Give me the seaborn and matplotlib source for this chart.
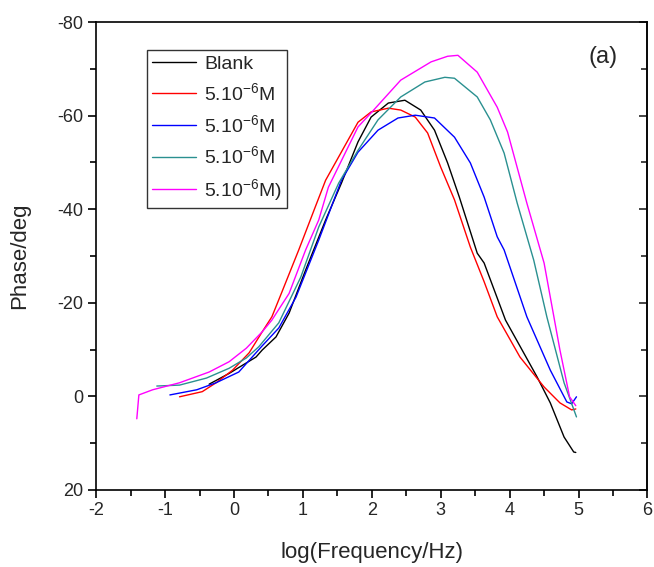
import numpy as np
import pandas as pd
import seaborn as sns
import matplotlib.pyplot as plt

# log(f) / phase values
blank_x = [-0.36, -0.07, 0.32, 0.41, 0.61, 0.80, 1.04, 1.33, 1.56, 1.80, 1.99, 2.24, 2.48,
           2.71, 2.91, 3.10, 3.27, 3.53, 3.63, 3.94, 4.40, 4.59, 4.79, 4.93, 4.96]
blank_y = [-2.6, -4.9, -8.4, -9.9, -12.7, -17.8, -27.0, -37.7, -45.6, -54.4, -59.7, -62.7, -63.3,
           -61.2, -56.9, -49.9, -42.6, -30.6, -28.5, -16.3, -4.1, 1.4, 8.7, 11.9, 12.0]

red_x = [-0.79, -0.46, -0.26, -0.02, 0.22, 0.41, 0.55, 0.69, 0.94, 1.18, 1.33, 1.80, 1.99,
         2.24, 2.42, 2.63, 2.81, 3.00, 3.20, 3.43, 3.63, 3.82, 4.15, 4.50, 4.73, 4.90, 4.96]
red_y = [0.1, -1.0, -2.9, -5.6, -9.3, -13.8, -17.0, -22.1, -31.3, -40.5, -46.2, -58.6, -60.8,
         -61.6, -61.2, -59.7, -56.3, -49.0, -42.0, -31.9, -24.5, -17.0, -8.4, -2.0, 1.4, 2.9, 2.7]

blue_x = [-0.93, -0.54, -0.26, 0.07, 0.41, 0.65, 0.90, 1.23, 1.56, 1.80, 2.09, 2.38, 2.63,
          2.91, 3.20, 3.43, 3.63, 3.82, 3.92, 4.25, 4.59, 4.83, 4.90, 4.97]
blue_y = [-0.3, -1.4, -2.9, -5.2, -10.8, -14.6, -21.2, -33.4, -46.2, -52.2, -56.9, -59.5, -60.1,
          -59.5, -55.4, -49.9, -42.6, -34.1, -31.3, -17.0, -5.6, 1.2, 1.6, 0.1]

teal_x = [-1.12, -0.79, -0.40, -0.07, 0.18, 0.36, 0.65, 0.97, 1.23, 1.52, 1.80, 2.09, 2.42,
          2.77, 3.06, 3.20, 3.53, 3.72, 3.92, 4.11, 4.35, 4.54, 4.79, 4.97]
teal_y = [-2.2, -2.4, -3.9, -6.0, -8.2, -10.6, -15.7, -25.5, -36.2, -45.6, -52.6, -59.1, -64.0,
          -67.2, -68.2, -68.0, -64.0, -59.1, -52.0, -41.3, -29.1, -17.0, -2.9, 4.4]

mag_x = [-1.41, -1.38, -1.18, -0.79, -0.36, -0.07, 0.18, 0.41, 0.55, 0.80, 1.04, 1.23, 1.37,
         1.80, 1.99, 2.42, 2.86, 3.10, 3.25, 3.53, 3.82, 3.97, 4.25, 4.50, 4.73, 4.87, 4.96]
mag_y = [4.8, -0.3, -1.4, -2.9, -5.2, -7.4, -10.3, -13.8, -16.3, -22.0, -31.3, -37.7, -44.7,
         -57.6, -60.6, -67.6, -71.5, -72.7, -72.9, -69.3, -61.8, -56.5, -41.3, -28.5, -9.9, 0.1, 2.0]

labels = ['Blank', r'5.10$^{-6}$M', r'5.10$^{-6}$M', r'5.10$^{-6}$M', r'5.10$^{-6}$M)']
colors = ['#000000', '#ff0000', '#0000ff', '#2a9090', '#ff00ff']
series = [(blank_x, blank_y), (red_x, red_y), (blue_x, blue_y), (teal_x, teal_y), (mag_x, mag_y)]

sns.set_style('white')
plt.rcParams['font.family'] = ['Liberation Sans', 'DejaVu Sans']
plt.rcParams['mathtext.default'] = 'regular'
plt.rcParams['axes.unicode_minus'] = False

fig = plt.figure(figsize=(6.54, 5.67), dpi=100)
ax = fig.add_axes([0.147, 0.136, 0.843, 0.825])

for (xs, ys), lab, col in zip(series, labels, colors):
    d = pd.DataFrame({'x': xs, 'y': ys})
    sns.lineplot(data=d, x='x', y='y', sort=False, color=col, lw=1.0, label=lab, ax=ax)

ax.set_xlim(-2, 6)
ax.set_ylim(20, -80)
ax.set_xticks(range(-2, 7))
ax.set_yticks([20, 0, -20, -40, -60, -80])
ax.set_xticks(np.arange(-1.5, 6, 1), minor=True)
ax.set_yticks([10, -10, -30, -50, -70], minor=True)
ax.tick_params(which='both', bottom=True, left=True, top=False, right=False)
ax.tick_params(which='major', direction='out', length=6, width=1.2, labelsize=13,
               color='black', pad=3)
ax.tick_params(which='minor', direction='out', length=4, width=1.2, color='black')
for s in ax.spines.values():
    s.set_color('black')
    s.set_linewidth(1.2)

# mirrored inward ticks on the right side
sec = ax.secondary_yaxis('right')
sec.set_yticks([20, 0, -20, -40, -60, -80])
sec.set_yticks([10, -10, -30, -50, -70], minor=True)
sec.set_yticklabels([])
sec.tick_params(which='both', right=True)
sec.tick_params(which='major', direction='in', length=6, width=1.2)
sec.tick_params(which='minor', direction='in', length=4, width=1.2)
sec.spines['right'].set_linewidth(1.2)

ax.set_xlabel('log(Frequency/Hz)', fontsize=16, labelpad=16)
ax.set_ylabel('Phase/deg', fontsize=16, labelpad=20)

ax.text(0.92, 0.925, '(a)', transform=ax.transAxes, fontsize=17, ha='center', va='center')

leg = ax.legend(loc='upper left', bbox_to_anchor=(0.092, 0.94), borderaxespad=0,
                fontsize=14, frameon=True, fancybox=False, handlelength=2.3,
                handletextpad=0.4, labelspacing=0.5, borderpad=0.25)
leg.get_frame().set_edgecolor('black')
leg.get_frame().set_linewidth(1.0)

fig.savefig('out.png', dpi=100)
